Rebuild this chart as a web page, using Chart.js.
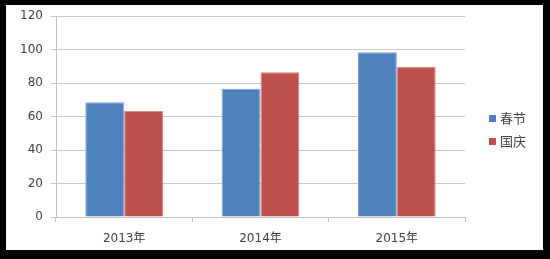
<!DOCTYPE html>
<html>
<head>
<meta charset="utf-8">
<script src="https://cdn.jsdelivr.net/npm/chart.js@4/dist/chart.umd.min.js"></script>
<style>
  html, body { margin: 0; padding: 0; background: #000; }
  #frame { position: absolute; left: 6px; top: 5px; width: 537px; height: 245px; background: #fff; }
  #chart { position: absolute; left: 0; top: 0; }
  .legend { position: absolute; left: 483px; font: 13px "Noto Sans CJK SC", sans-serif; color: #404040; }
  .legend span { display: inline-block; width: 7px; height: 7px; margin-right: 4px; vertical-align: middle; position: relative; top: -1px; }
</style>
</head>
<body>
<div id="frame">
  <canvas id="chart" width="537" height="245"></canvas>
  <div class="legend" id="lg1" style="top:103px"></div>
  <div class="legend" id="lg2" style="top:126px"></div>
</div>
<script>
var categories = ['2013年', '2014年', '2015年'];
var springFestival = [68.5, 76.6, 98.3];
var nationalDay = [63.3, 86.4, 89.7];
var seriesNames = ['春节', '国庆'];
var yTicks = [0, 20, 40, 60, 80, 100, 120];

var blue = '#4F81BD';
var red = '#C0504D';

document.addEventListener('DOMContentLoaded', function () {
    var ctx = document.getElementById('chart').getContext('2d');
    new Chart(ctx, {
        type: 'bar',
        data: {
            labels: categories,
            datasets: [{
                label: seriesNames[0],
                data: springFestival,
                backgroundColor: blue,
                borderColor: '#7FA3D3',
                borderWidth: 1,
                categoryPercentage: 0.57,
                barPercentage: 1
            }, {
                label: seriesNames[1],
                data: nationalDay,
                backgroundColor: red,
                borderColor: '#D98886',
                borderWidth: 1,
                categoryPercentage: 0.57,
                barPercentage: 1
            }]
        },
        options: {
            responsive: false,
            animation: false,
            layout: { padding: { top: 11, left: 0, right: 78, bottom: 0 } },
            plugins: { legend: { display: false }, tooltip: { enabled: false } },
            scales: {
                x: {
                    afterFit: function (s) { s.height = 33; },
                    grid: { offset: true, drawOnChartArea: false, drawTicks: true, tickLength: 5, color: '#BFBFBF' },
                    border: { color: '#BFBFBF' },
                    ticks: { color: '#404040', font: { family: '"DejaVu Sans", "Noto Sans CJK SC"', size: 12 }, padding: 10 }
                },
                y: {
                    min: 0,
                    max: 120,
                    afterFit: function (s) { s.width = 50; s.paddingTop = 0; s.paddingBottom = 0; },
                    afterBuildTicks: function (s) { s.ticks = yTicks.map(function (v) { return { value: v }; }); },
                    grid: { color: '#C8C8C8', tickLength: 5 },
                    border: { color: '#BFBFBF' },
                    ticks: { color: '#404040', font: { family: '"DejaVu Sans"', size: 12 }, padding: 8 }
                }
            }
        }
    });

    [['lg1', blue], ['lg2', red]].forEach(function (p, i) {
        var el = document.getElementById(p[0]);
        el.innerHTML = '<span style="background:' + p[1] + '"></span>' + seriesNames[i];
    });
});
</script>
</body>
</html>
